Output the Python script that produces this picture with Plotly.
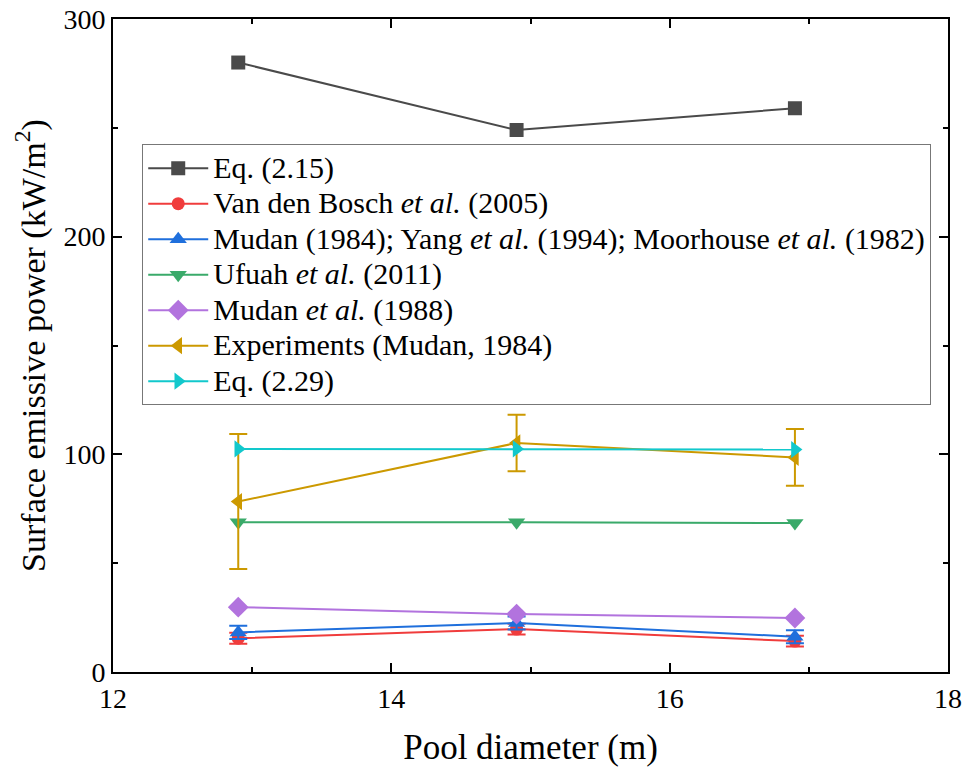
import plotly.graph_objects as go

# Pool diameters (m)
diameter = [12.9, 14.9, 16.9]

# Surface emissive power (kW/m^2) per correlation / dataset
eq_215 = [280, 249, 259]
van_den_bosch = [15.5, 19.7, 14.2]
van_den_bosch_err = [2.5, 2.5, 2.5]
mudan_yang_moorhouse = [18.2, 22.5, 16.2]
mudan_yang_moorhouse_err = [3, 3, 3]
ufuah = [68.8, 68.8, 68.4]
mudan_1988 = [29.8, 26.6, 24.8]
experiments = [78.3, 105.2, 98.6]
experiments_err = [31, 13, 13]
eq_229 = [102.5, 102.5, 102.2]

names = [
    "Eq. (2.15)",
    "Van den Bosch <i>et al.</i> (2005)",
    "Mudan (1984); Yang <i>et al.</i> (1994); Moorhouse <i>et al.</i> (1982)",
    "Ufuah <i>et al.</i> (2011)",
    "Mudan <i>et al.</i> (1988)",
    "Experiments (Mudan, 1984)",
    "Eq. (2.29)",
]

FONT = "'Liberation Serif', 'Times New Roman', serif"
LEGEND_TEXT_SIZE = 30

fig = go.Figure()


def add_series(y, name, color, symbol, size=13, err=None):
    kw = {}
    if err is not None:
        kw["error_y"] = dict(type="data", array=err, visible=True,
                             color=color, thickness=2, width=9)
    label = f'<span style="font-size:{LEGEND_TEXT_SIZE}px">{name}</span>'
    fig.add_trace(go.Scatter(
        x=diameter, y=y, name=label, mode="lines+markers",
        line=dict(color=color, width=2),
        marker=dict(color=color, symbol=symbol, size=size),
        **kw,
    ))


add_series(eq_215, names[0], "#4a4a4a", "square", 14)
add_series(van_den_bosch, names[1], "#F03C3C", "circle", 13, van_den_bosch_err)
add_series(mudan_yang_moorhouse, names[2], "#1F6FDC", "triangle-up", 15,
           mudan_yang_moorhouse_err)
add_series(ufuah, names[3], "#3AAA6A", "triangle-down", 15)
add_series(mudan_1988, names[4], "#B273DE", "diamond", 16)
add_series(experiments, names[5], "#CC9900", "triangle-left", 15, experiments_err)
add_series(eq_229, names[6], "#12C8CC", "triangle-right", 15)

axis_common = dict(
    showline=True, linecolor="black", linewidth=2, mirror="allticks",
    ticks="inside", ticklen=9, tickwidth=2, tickcolor="black",
    minor=dict(ticks="inside", ticklen=5, tickwidth=2, tickcolor="black"),
    showgrid=False, zeroline=False, automargin=False,
)

fig.update_xaxes(
    range=[12, 18], dtick=2, minor_dtick=1,
    tickfont=dict(family=FONT, size=28, color="black"),
    title=dict(text="Pool diameter (m)", font=dict(family=FONT, size=35, color="black"),
               standoff=22),
    **axis_common,
)
fig.update_yaxes(
    range=[0, 300], dtick=100, minor_dtick=50,
    tickfont=dict(family=FONT, size=28, color="black"),
    title=dict(text="Surface emissive power (kW/m<sup>2</sup>)",
               font=dict(family=FONT, size=34, color="black"), standoff=8),
    **axis_common,
)

fig.update_layout(
    width=967, height=768,
    margin=dict(l=113, r=19, t=19, b=96),
    plot_bgcolor="white", paper_bgcolor="white",
    font=dict(family=FONT),
    showlegend=True,
    legend=dict(
        x=0.035, y=0.808, xanchor="left", yanchor="top",
        bgcolor="white", bordercolor="#777777", borderwidth=1,
        font=dict(family=FONT, size=25, color="black"),
        itemwidth=60, tracegroupgap=0,
    ),
)

fig.write_html("out.html")
